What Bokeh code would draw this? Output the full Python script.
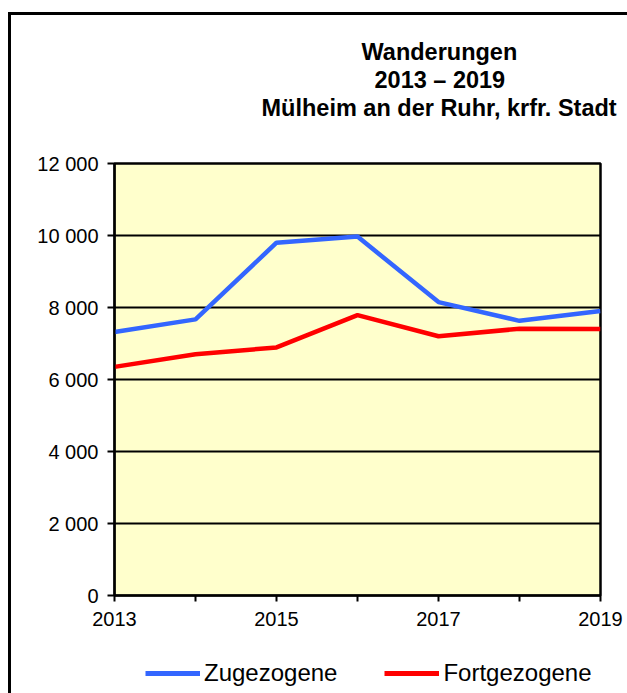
from bokeh.plotting import figure
from bokeh.layouts import column
from bokeh.models import (Range1d, FixedTicker, Legend, LegendItem, Title)
from bokeh.embed import file_html
from bokeh.resources import INLINE

# ---- data ----
years = [2013, 2014, 2015, 2016, 2017, 2018, 2019]
zugezogene = [7320, 7670, 9800, 9970, 8150, 7630, 7900]
fortgezogene = [6350, 6700, 6890, 7790, 7200, 7410, 7400]
y_ticks = [0, 2000, 4000, 6000, 8000, 10000, 12000]
y_tick_labels = ["0", "2 000", "4 000", "6 000", "8 000", "10 000", "12 000"]
x_tick_labels = ["2013", "", "2015", "", "2017", "", "2019"]
title_lines = ["Wanderungen", "2013 \u2013 2019", "Mülheim an der Ruhr, krfr. Stadt"]
series_names = ["Zugezogene", "Fortgezogene"]
series_colors = ["#3366FF", "#FF0000"]

FONT = "Liberation Sans"

# ---------------- main chart ----------------
p = figure(frame_width=486, frame_height=432, output_backend="svg",
           toolbar_location=None,
           x_range=Range1d(2013, 2019), y_range=Range1d(0, 12000),
           min_border_left=114, min_border_right=27,
           min_border_top=163, min_border_bottom=45)

p.background_fill_color = "#FFFFCC"
p.border_fill_color = "white"
p.outline_line_color = "black"
p.outline_line_width = 2.5

p.xgrid.grid_line_color = None
p.ygrid.grid_line_color = "black"
p.ygrid.grid_line_width = 2
p.ygrid.ticker = FixedTicker(ticks=y_ticks)

p.xaxis.ticker = FixedTicker(ticks=years)
p.xaxis.major_label_overrides = {y: l for y, l in zip(years, x_tick_labels)}
p.yaxis.ticker = FixedTicker(ticks=y_ticks)
p.yaxis.major_label_overrides = {t: l for t, l in zip(y_ticks, y_tick_labels)}
for ax in (p.xaxis, p.yaxis):
    ax.axis_line_color = "black"
    ax.axis_line_width = 2
    ax.major_tick_line_color = "black"
    ax.major_tick_line_width = 2
    ax.major_tick_in = 0
    ax.minor_tick_line_color = None
    ax.major_label_text_font = FONT
    ax.major_label_text_font_size = "20px"
    ax.major_label_text_color = "black"
p.xaxis.major_tick_out = 6
p.xaxis.major_label_standoff = 10
p.yaxis.major_tick_out = 7
p.yaxis.major_label_standoff = 9

p.line(years, zugezogene, line_color=series_colors[0], line_width=4.5)
p.line(years, fortgezogene, line_color=series_colors[1], line_width=4.5)

# title (three centred lines, nearest-to-plot first, plus a spacer)
p.title.text = ""
p.add_layout(Title(text="\u00a0", text_font=FONT, text_font_size="23px",
                   standoff=15), "above")
title_offsets = [247, 260, 147]
for txt, off in reversed(list(zip(title_lines, title_offsets))):
    p.add_layout(Title(text=txt, align="left", offset=off,
                       text_font=FONT, text_font_size="23.5px",
                       text_font_style="bold", text_color="black",
                       standoff=0), "above")

# ---------------- legend strip ----------------
pl = figure(width=627, height=53, output_backend="svg", toolbar_location=None,
            x_axis_type=None, y_axis_type=None,
            x_range=Range1d(0, 1), y_range=Range1d(0, 1),
            min_border_left=0, min_border_right=0,
            min_border_top=0, min_border_bottom=0)
pl.outline_line_color = None
pl.background_fill_color = "white"
pl.border_fill_color = "white"
# same series, outside this strip's visible range: only their legend glyphs show
l1 = pl.line(years, zugezogene, line_color=series_colors[0], line_width=5)
l2 = pl.line(years, fortgezogene, line_color=series_colors[1], line_width=5)

legend = Legend(items=[LegendItem(label=series_names[0], renderers=[l1]),
                       LegendItem(label=series_names[1], renderers=[l2])],
                orientation="horizontal", location=(31, 6),
                padding=0, margin=0, spacing=47,
                glyph_width=55, label_standoff=4,
                label_text_font=FONT, label_text_font_size="24px",
                label_text_color="black",
                border_line_alpha=0, background_fill_alpha=0)
pl.add_layout(legend)

layout = column(p, pl, spacing=0)

# outer chart frame (left and top edges visible in the window)
frame_css = ("<style>body::before{content:'';position:fixed;left:8px;top:12px;"
             "right:-20px;bottom:-20px;border-left:3px solid #000;"
             "border-top:3px solid #000;pointer-events:none;z-index:10;}</style>")

html = file_html(layout, INLINE)
html = html.replace("</head>", frame_css + "</head>", 1)
open("out.html", "w").write(html)
